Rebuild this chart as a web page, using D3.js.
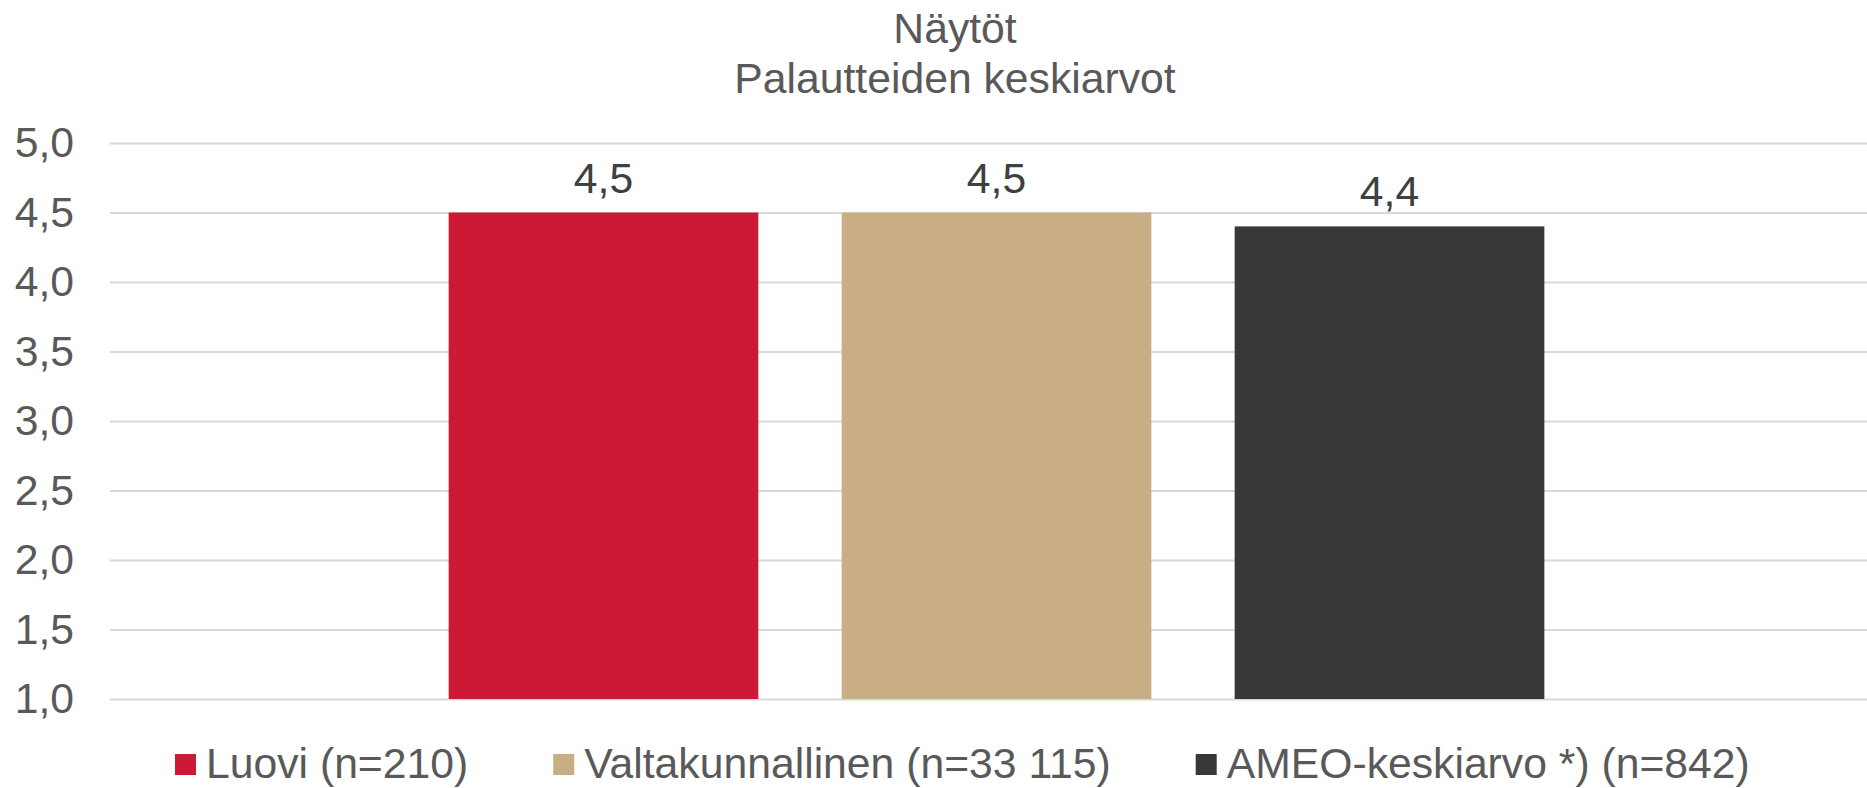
<!DOCTYPE html>
<html lang="fi">

<head>
    <title>Näytöt</title>
    <meta charset="UTF-8">
    <script src="https://cdn.jsdelivr.net/npm/d3@7"></script>
    <style>
        body {
            margin: 0;
            background: #fff;
        }

        text {
            font-family: "Liberation Sans", Arial, sans-serif;
        }
    </style>
</head>

<body>
    <script>
        // data
        var titleLines = ['Näytöt', 'Palautteiden keskiarvot'];
        var seriesNames = ['Luovi (n=210)', 'Valtakunnallinen (n=33 115)', 'AMEO-keskiarvo *) (n=842)'];
        var seriesValues = [4.5, 4.5, 4.4];
        var yTicks = [1.0, 1.5, 2.0, 2.5, 3.0, 3.5, 4.0, 4.5, 5.0];
        var colorArr = ['#cc1935', '#c9ae85', '#383838'];

        var width = 1867,
            height = 788,
            plotLeft = 110,
            plotRight = 1883,
            plotTop = 143,
            plotBottom = 699,
            fontSize = 42.7;

        var oSvg = d3.select('body').append('svg')
            .attr('width', width)
            .attr('height', height);

        var comma = function(v) {
            return d3.format('.1f')(v).replace('.', ',');
        };

        // scales
        var y_scale = d3.scaleLinear()
            .domain([1, 5])
            .range([plotBottom, plotTop]);
        var plotW = plotRight - plotLeft;
        var x_scale = d3.scaleBand()
            .domain(seriesNames)
            .range([plotLeft + plotW * 0.191, plotRight - plotW * 0.191])
            .paddingInner(0.212);

        // title
        oSvg.append('g').selectAll('text')
            .data(titleLines)
            .enter()
            .append('text')
            .attr('x', 955)
            .attr('y', function(d, i) {
                return 43 + i * 50;
            })
            .attr('text-anchor', 'middle')
            .attr('fill', '#595959')
            .style('font-size', fontSize + 'px')
            .text(function(d) {
                return d;
            });

        // gridlines
        var grid = oSvg.append('g')
            .attr('transform', 'translate(' + plotLeft + ',0)')
            .call(d3.axisRight(y_scale).tickValues(yTicks).tickSize(plotW).tickFormat(''));
        grid.select('.domain').remove();
        grid.selectAll('line').attr('stroke', '#d9d9d9').attr('stroke-width', 2);

        // y axis labels
        var yAxis = oSvg.append('g')
            .attr('transform', 'translate(74,0)')
            .call(d3.axisLeft(y_scale).tickValues(yTicks).tickSize(0).tickPadding(0).tickFormat(comma));
        yAxis.select('.domain').remove();
        yAxis.selectAll('text')
            .attr('fill', '#595959')
            .style('font-family', '"Liberation Sans", Arial, sans-serif')
            .style('font-size', fontSize + 'px');

        // bars
        var bars = oSvg.append('g').selectAll('rect')
            .data(seriesValues)
            .enter()
            .append('rect')
            .attr('x', function(d, i) {
                return x_scale(seriesNames[i]);
            })
            .attr('y', function(d) {
                return y_scale(d);
            })
            .attr('width', x_scale.bandwidth())
            .attr('height', function(d) {
                return y_scale(1) - y_scale(d);
            })
            .attr('fill', function(d, i) {
                return colorArr[i];
            });

        // value labels
        oSvg.append('g').selectAll('text')
            .data(seriesValues)
            .enter()
            .append('text')
            .attr('x', function(d, i) {
                return x_scale(seriesNames[i]) + x_scale.bandwidth() / 2;
            })
            .attr('y', function(d) {
                return y_scale(d) - 20;
            })
            .attr('text-anchor', 'middle')
            .attr('fill', '#404040')
            .style('font-size', fontSize + 'px')
            .text(comma);

        // legend
        var legend = oSvg.append('g').attr('class', 'legend');
        var lx = 175;
        seriesNames.forEach(function(name, i) {
            legend.append('rect')
                .attr('x', lx)
                .attr('y', 754)
                .attr('width', 21)
                .attr('height', 21)
                .attr('fill', colorArr[i]);
            var t = legend.append('text')
                .attr('x', lx + 31)
                .attr('y', 778)
                .attr('fill', '#595959')
                .style('font-size', fontSize + 'px')
                .text(name);
            lx = lx + 31 + t.node().getComputedTextLength() + 85;
        });
    </script>
</body>

</html>
